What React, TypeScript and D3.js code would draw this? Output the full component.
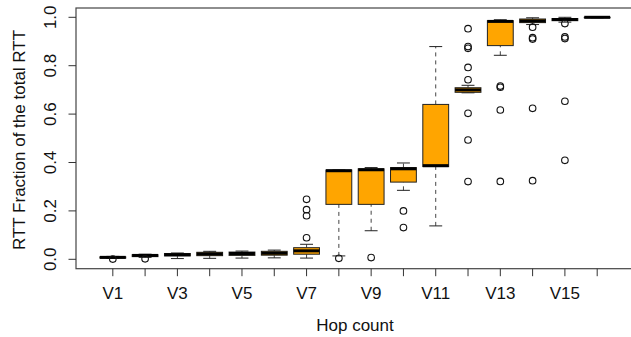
import * as d3 from 'd3';
import { useEffect, useRef } from 'react';

// hop labels and five-number summaries
const hops = ['V1', 'V2', 'V3', 'V4', 'V5', 'V6', 'V7', 'V8', 'V9', 'V10', 'V11', 'V12', 'V13', 'V14', 'V15', 'V16'];
const whiskerLow = [0.004, 0.008, 0.003, 0.004, 0.005, 0.006, 0.005, 0.014, 0.118, 0.285, 0.138, 0.688, 0.843, 0.970, 0.980, 0.998];
const q1 = [0.005, 0.011, 0.014, 0.015, 0.016, 0.017, 0.021, 0.227, 0.227, 0.319, 0.383, 0.690, 0.883, 0.978, 0.986, 0.999];
const medians = [0.008, 0.016, 0.019, 0.022, 0.024, 0.025, 0.035, 0.366, 0.370, 0.374, 0.387, 0.700, 0.983, 0.985, 0.991, 1.0];
const q3 = [0.010, 0.019, 0.024, 0.029, 0.030, 0.033, 0.048, 0.369, 0.374, 0.379, 0.640, 0.709, 0.986, 0.993, 0.995, 1.0];
const whiskerHigh = [0.012, 0.021, 0.026, 0.033, 0.034, 0.038, 0.062, 0.369, 0.379, 0.398, 0.879, 0.719, 0.990, 0.998, 1.0, 1.0];
const outliers = [
  [0.001],
  [0.002],
  [],
  [],
  [],
  [],
  [0.089, 0.18, 0.205, 0.248],
  [0.004],
  [0.007],
  [0.2, 0.131],
  [],
  [0.953, 0.879, 0.872, 0.793, 0.742, 0.603, 0.493, 0.321],
  [0.716, 0.711, 0.617, 0.322],
  [0.959, 0.916, 0.910, 0.624, 0.325],
  [0.974, 0.919, 0.912, 0.653, 0.409],
  [],
];
const yTicks = [0, 0.2, 0.4, 0.6, 0.8, 1.0];

const BoxPlot = () => {
  const ref = useRef<SVGSVGElement>(null);

  useEffect(() => {
    const width = 631;
    const height = 337;
    const left = 76, right = 634, top = 8, bottom = 268.7;
    const font = 'Liberation Sans, Arial, Helvetica, sans-serif';

    const svg = d3.select(ref.current);
    svg.selectAll('*').remove();
    svg.attr('width', width).attr('height', height);

    const x = d3.scaleLinear().domain([-0.14, 17.14]).range([left, right]);
    const y = d3.scaleLinear().domain([0, 1]).range([259.3, 17.3]);
    const unit = x(1) - x(0);
    const boxW = 0.8 * unit;
    const stapleW = 0.5 * boxW;

    const rows = hops.map((h, i) => ({
      h, i: i + 1,
      lo: whiskerLow[i], q1: q1[i], med: medians[i], q3: q3[i], hi: whiskerHigh[i],
      out: outliers[i],
    }));

    const g = svg.append('g');

    // whiskers (dashed)
    g.selectAll('.wl').data(rows).enter().append('line')
      .attr('x1', d => x(d.i)).attr('x2', d => x(d.i))
      .attr('y1', d => y(d.lo)).attr('y2', d => y(d.q1))
      .attr('stroke', '#444').attr('stroke-dasharray', '4,4');
    g.selectAll('.wh').data(rows).enter().append('line')
      .attr('x1', d => x(d.i)).attr('x2', d => x(d.i))
      .attr('y1', d => y(d.q3)).attr('y2', d => y(d.hi))
      .attr('stroke', '#444').attr('stroke-dasharray', '4,4');

    // staples
    ['lo', 'hi'].forEach(k => {
      g.selectAll('.st' + k).data(rows).enter().append('line')
        .attr('x1', d => x(d.i) - stapleW / 2).attr('x2', d => x(d.i) + stapleW / 2)
        .attr('y1', d => y(d[k])).attr('y2', d => y(d[k]))
        .attr('stroke', '#222');
    });

    // boxes
    g.selectAll('.box').data(rows).enter().append('rect')
      .attr('x', d => x(d.i) - boxW / 2)
      .attr('y', d => y(d.q3))
      .attr('width', boxW)
      .attr('height', d => Math.max(0.5, y(d.q1) - y(d.q3)))
      .attr('fill', '#FFA500')
      .attr('stroke', '#222');

    // medians
    g.selectAll('.med').data(rows).enter().append('line')
      .attr('x1', d => x(d.i) - boxW / 2).attr('x2', d => x(d.i) + boxW / 2)
      .attr('y1', d => y(d.med)).attr('y2', d => y(d.med))
      .attr('stroke', '#000').attr('stroke-width', 3);

    // outliers
    const pts = rows.flatMap(d => d.out.map(v => ({ i: d.i, v })));
    g.selectAll('.out').data(pts).enter().append('circle')
      .attr('cx', d => x(d.i)).attr('cy', d => y(d.v)).attr('r', 3.3)
      .attr('fill', 'none').attr('stroke', '#111').attr('stroke-width', 1.1);

    // frame
    svg.append('rect')
      .attr('x', left).attr('y', top)
      .attr('width', right - left).attr('height', bottom - top)
      .attr('fill', 'none').attr('stroke', '#444').attr('stroke-width', 1.2);

    // x axis ticks and labels
    svg.selectAll('.xt').data(rows).enter().append('line')
      .attr('x1', d => x(d.i)).attr('x2', d => x(d.i))
      .attr('y1', bottom).attr('y2', bottom + 7.5)
      .attr('stroke', '#333');
    svg.selectAll('.xl').data(rows.filter(d => d.i % 2 === 1)).enter().append('text')
      .attr('x', d => x(d.i)).attr('y', 299)
      .attr('text-anchor', 'middle')
      .style('font-family', font).style('font-size', '17px').attr('fill', '#111')
      .text(d => d.h);

    // y axis ticks and labels
    svg.selectAll('.yt').data(yTicks).enter().append('line')
      .attr('x1', left - 7.5).attr('x2', left)
      .attr('y1', d => y(d)).attr('y2', d => y(d))
      .attr('stroke', '#333');
    svg.selectAll('.yl').data(yTicks).enter().append('text')
      .attr('transform', d => `translate(55.5,${y(d)}) rotate(-90)`)
      .attr('text-anchor', 'middle')
      .style('font-family', font).style('font-size', '17px').attr('fill', '#111')
      .text(d => d3.format('.1f')(d));

    // axis titles
    svg.append('text')
      .attr('transform', `translate(25,140) rotate(-90)`)
      .attr('text-anchor', 'middle')
      .style('font-family', font).style('font-size', '17px').attr('fill', '#111')
      .text('RTT Fraction of the total RTT');
    svg.append('text')
      .attr('x', (left + right) / 2).attr('y', 331)
      .attr('text-anchor', 'middle')
      .style('font-family', font).style('font-size', '17px').attr('fill', '#111')
      .text('Hop count');
  }, []);

  return <svg ref={ref} style={{ position: 'absolute', left: 0, top: 0 }}></svg>;
};

export default function App() {
  return <BoxPlot />;
}
